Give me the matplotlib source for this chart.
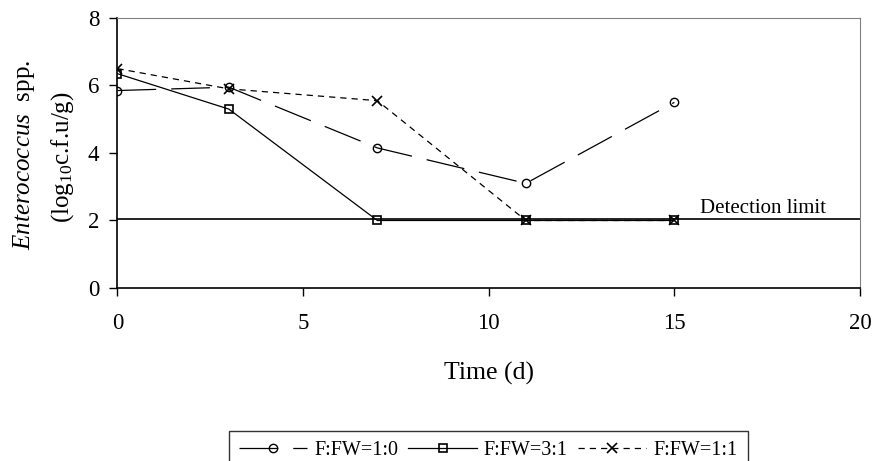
import matplotlib
matplotlib.use("Agg")
import matplotlib.pyplot as plt

plt.rcParams['font.family'] = ['Liberation Serif', 'DejaVu Serif']
plt.rcParams['mathtext.fontset'] = 'custom'
plt.rcParams['mathtext.rm'] = 'Liberation Serif'
plt.rcParams['mathtext.it'] = 'Liberation Serif:italic'

# data
days = [0, 3, 7, 11, 15]
fw_1_0 = [5.85, 5.95, 4.15, 3.1, 5.5]
fw_3_1 = [6.35, 5.3, 2.0, 2.0, 2.0]
fw_1_1 = [6.5, 5.9, 5.55, 2.0, 2.0]
labels = ['F:FW=1:0', 'F:FW=3:1', 'F:FW=1:1']
detection_limit = 2.03

fig = plt.figure(figsize=(8.78, 4.61), dpi=100)
ax = fig.add_axes([0.1338, 0.3753, 0.9795 - 0.1338, 0.961 - 0.3753])

ax.plot(days, fw_1_0, color='k', lw=0.9, dashes=(31, 12), marker='o',
        ms=6, mfc='none', mec='k', mew=1.0, label=labels[0])
ax.plot(days, fw_3_1, color='k', lw=0.9, marker='s',
        ms=6, mfc='none', mec='k', mew=1.2, label=labels[1])
ax.plot(days, fw_1_1, color='k', lw=0.9, dashes=(5, 4), marker='x',
        ms=7, mec='k', mew=1.2, label=labels[2])

ax.axhline(detection_limit, color='k', lw=1.2, zorder=1)
ax.text(15.7, 2.22, 'Detection limit', fontsize=15,
        ha='left', va='baseline')

ax.set_xlim(0, 20)
ax.set_ylim(0, 8)
ax.set_xticks([0, 5, 10, 15, 20])
ax.set_yticks([0, 2, 4, 6, 8])
ax.tick_params(direction='out', length=6, width=1, labelsize=16.5)
ax.tick_params(axis='x', pad=12)
ax.tick_params(axis='y', pad=7)

for s in ['top', 'right']:
    ax.spines[s].set_color('#808080')
for s in ['left', 'bottom']:
    ax.spines[s].set_linewidth(1.2)

ax.set_xlabel('Time (d)', fontsize=18.5)
ax.xaxis.set_label_coords(0.5, -0.318)
ax.xaxis.label.set_va('center')

fig.text(0.027, 0.664, r'$\mathit{Enterococcus}$  spp.', rotation=90,
         fontsize=18, ha='center', va='center')
fig.text(0.071, 0.66, r'(log$_{10}$c.f.u/g)', rotation=90,
         fontsize=18, ha='center', va='center')

leg = fig.legend(loc='upper center', bbox_to_anchor=(0.556, 0.0868),
                 bbox_transform=fig.transFigure, ncol=3, fontsize=14.5,
                 frameon=True, fancybox=False, edgecolor='k',
                 handlelength=3.4, columnspacing=0.5, handletextpad=0.35,
                 borderpad=0.5)
leg.get_frame().set_linewidth(1.0)

fig.savefig('out.png', dpi=100)
